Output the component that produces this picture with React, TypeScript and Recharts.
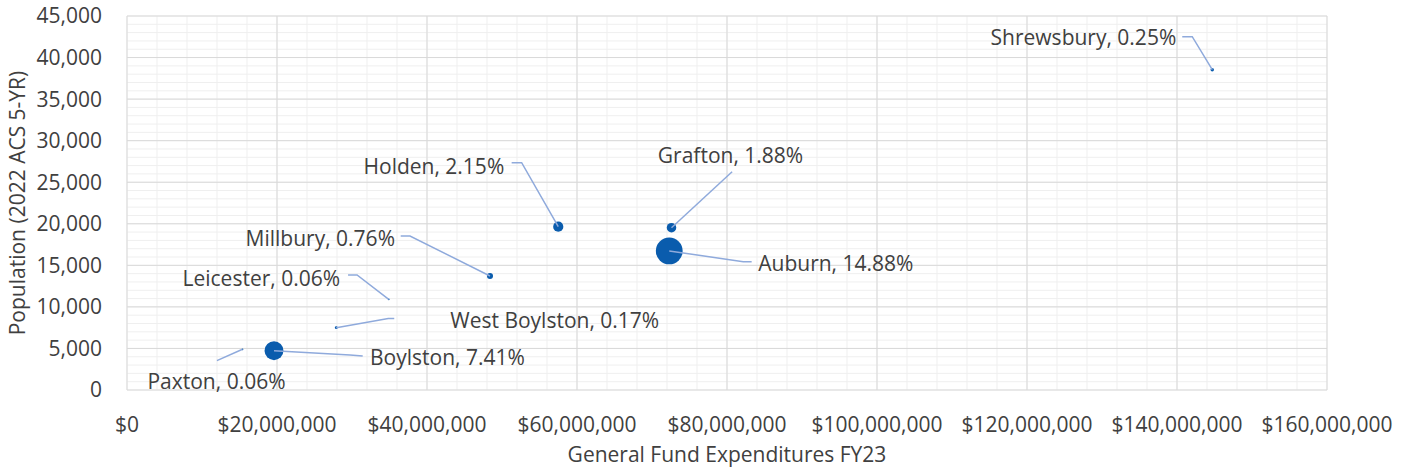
import { ScatterChart, Scatter, XAxis, YAxis, ZAxis, CartesianGrid } from 'recharts'

// towns, FY23 general fund spend, 2022 ACS population, share (%)
const towns = ['Shrewsbury', 'Holden', 'Millbury', 'Grafton', 'Auburn', 'Leicester', 'West Boylston', 'Boylston', 'Paxton']
const expenditures = [144.7e6, 57.5e6, 48.4e6, 72.6e6, 72.3e6, 34.9e6, 27.9e6, 19.6e6, 15.4e6]
const population = [38540, 19650, 13720, 19530, 16730, 10910, 7500, 4730, 4900]
const share = [0.25, 2.15, 0.76, 1.88, 14.88, 0.06, 0.17, 7.41, 0.06]

const X_MAX = 160e6
const Y_MAX = 45000
const xTicks = [0, 20e6, 40e6, 60e6, 80e6, 100e6, 120e6, 140e6, 160e6]
const yTicks = [0, 5000, 10000, 15000, 20000, 25000, 30000, 35000, 40000, 45000]

// minor gridlines: every $4M and every 1,000 people
const range = (max: number, step: number) => Array.from({ length: Math.round(max / step) + 1 }, (_, i) => i * step)
const xMinor = range(X_MAX, 4e6)
const yMinor = range(Y_MAX, 1000)

const points = towns.map((name, i) => ({
  name,
  spend: expenditures[i],
  pop: population[i],
  share: share[i],
}))

// where each data label sits relative to its bubble (px), plus the leader line bends
const labelLayout: Record<string, { dx: number; dy: number; anchor: 'start' | 'middle' | 'end'; leader: number[][] }> = {
  Shrewsbury: { dx: -36, dy: -32, anchor: 'end', leader: [[-20, -33], [-30, -33]] },
  Holden: { dx: -54, dy: -60, anchor: 'end', leader: [[-36.6, -64], [-46.6, -64]] },
  Millbury: { dx: -95, dy: -38, anchor: 'end', leader: [[-80, -40], [-89.3, -40]] },
  Grafton: { dx: 59, dy: -72.7, anchor: 'middle', leader: [[60.6, -56]] },
  Auburn: { dx: 89, dy: 12.3, anchor: 'start', leader: [[74, 10.7], [82.4, 10.7]] },
  Leicester: { dx: -48.7, dy: -21, anchor: 'end', leader: [[-31.7, -24.3], [-40.7, -24.3]] },
  'West Boylston': { dx: 114, dy: -7.7, anchor: 'start', leader: [[52, -9.2], [58, -9.2]] },
  Boylston: { dx: 96, dy: 6.3, anchor: 'start', leader: [[76, 4.3], [88.7, 5.3]] },
  Paxton: { dx: -26, dy: 32.4, anchor: 'middle', leader: [[-25.6, 11.4]] },
}

const FONT = '"Open Sans", "Noto Sans", sans-serif'
const FS = 21
const TEXT = '#404040'
const BUBBLE = '#0a5cad'
const LEADER = '#8faadc'

function Bubble(props: any) {
  const { cx, cy, size, payload } = props
  const r = Math.sqrt(Math.max(size ?? 0, 0) / Math.PI)
  const lay = labelLayout[payload.name]
  const pts = [[0, 0], ...lay.leader].map(([dx, dy]) => `${cx + dx},${cy + dy}`).join(' ')
  return (
    <g>
      <circle cx={cx} cy={cy} r={r} fill={BUBBLE} />
      <polyline points={pts} fill="none" stroke={LEADER} strokeWidth={1.5} />
      <text
        x={cx + lay.dx}
        y={cy + lay.dy}
        dy="0.36em"
        textAnchor={lay.anchor}
        fill={TEXT}
        fontFamily={FONT}
        fontSize={FS}
      >
        {`${payload.name}, ${payload.share.toFixed(2)}%`}
      </text>
    </g>
  )
}

function XTitle(props: any) {
  const vb = props.viewBox ?? { x: 127, y: 390, width: 1200 }
  return (
    <text x={vb.x + vb.width / 2} y={vb.y + 72} textAnchor="middle" fill={TEXT} fontFamily={FONT} fontSize={FS}>
      General Fund Expenditures FY23
    </text>
  )
}

function YTitle(props: any) {
  const vb = props.viewBox ?? { x: 0, y: 16, height: 374 }
  const x = vb.x + 25
  const y = vb.y + vb.height / 2
  return (
    <text x={x} y={y} transform={`rotate(-90, ${x}, ${y})`} textAnchor="middle" fill={TEXT} fontFamily={FONT} fontSize={FS}>
      Population (2022 ACS 5-YR)
    </text>
  )
}

// minor grid positions along the plot area (linear axes from 0)
const minorRows = ({ offset }: any) => yMinor.map((v) => offset.top + offset.height * (1 - v / Y_MAX))
const minorCols = ({ offset }: any) => xMinor.map((v) => offset.left + offset.width * (v / X_MAX))

const tickStyle = { fill: TEXT, fontFamily: FONT, fontSize: FS }

export default function App() {
  return (
    <div style={{ position: 'absolute', left: 0, top: 0, width: 1409, height: 475, background: '#fff' }}>
      <ScatterChart width={1409} height={475} margin={{ top: 16, right: 82, bottom: 0, left: 0 }}>
        <CartesianGrid stroke="#efefef" horizontalCoordinatesGenerator={minorRows} verticalCoordinatesGenerator={minorCols} />
        <CartesianGrid stroke="#d9d9d9" />
        <XAxis
          type="number"
          dataKey="spend"
          domain={[0, X_MAX]}
          ticks={xTicks}
          interval={0}
          height={85}
          tickSize={0}
          tickMargin={27}
          axisLine={false}
          tick={tickStyle}
          tickFormatter={(v: number) => `$${v.toLocaleString('en-US')}`}
          label={{ content: XTitle }}
        />
        <YAxis
          type="number"
          dataKey="pop"
          domain={[0, Y_MAX]}
          ticks={yTicks}
          interval={0}
          width={127}
          tickSize={0}
          tickMargin={25}
          axisLine={false}
          tick={tickStyle}
          tickFormatter={(v: number) => v.toLocaleString('en-US')}
          label={{ content: YTitle }}
        />
        <ZAxis type="number" dataKey="share" domain={[0, 'dataMax']} range={[0, 564]} />
        <Scatter data={points} fill={BUBBLE} shape={Bubble} isAnimationActive={false} />
      </ScatterChart>
    </div>
  )
}
